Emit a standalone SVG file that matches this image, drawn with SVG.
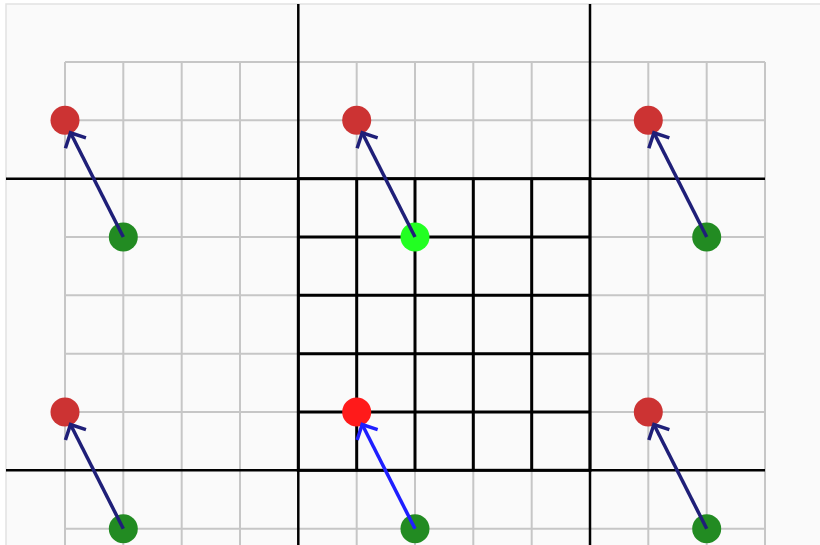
<svg xmlns="http://www.w3.org/2000/svg" width="820" height="545" viewBox="0 0 820 545">
  <defs>
    <style>
      .bg { fill: #fafafa; stroke: #e2e2e2; stroke-width: 1.5; }
      .grid { stroke: #c6c6c6; stroke-width: 2; fill: none; }
      .bound { stroke: #000; stroke-width: 2.5; fill: none; }
      .cell { stroke: #000; stroke-width: 3; fill: none; }
      .img-r { fill: #cc3333; }
      .img-g { fill: #228b22; }
      .arr { stroke: #1f1f78; stroke-width: 3.5; fill: none; marker-end: url(#head); }
      .arr-main { stroke: #1f1fff; stroke-width: 3.5; fill: none; marker-end: url(#head-main); }
    </style>
    <marker id="head" markerUnits="userSpaceOnUse" markerWidth="30" markerHeight="30" viewBox="-15 -15 30 30" refX="0" refY="0" orient="auto" overflow="visible">
      <path d="M-11.5,-11.5 L0,0 L-11.5,11.5" fill="none" stroke="#1f1f78" stroke-width="3.5"/>
    </marker>
    <marker id="head-main" markerUnits="userSpaceOnUse" markerWidth="30" markerHeight="30" viewBox="-15 -15 30 30" refX="0" refY="0" orient="auto" overflow="visible">
      <path d="M-11.5,-11.5 L0,0 L-11.5,11.5" fill="none" stroke="#1f1fff" stroke-width="3.5"/>
    </marker>
  </defs>

  <rect class="bg" x="6" y="4" width="830" height="560"/>

  <g id="grid" class="grid">
    <path d="M65,62V545 M123.3,62V545 M181.7,62V545 M240,62V545 M356.7,62V545 M415,62V545 M473.3,62V545 M531.7,62V545 M648.3,62V545 M706.7,62V545 M765,62V545"/>
    <path d="M65,62H765 M65,120.3H765 M65,237H765 M65,295.3H765 M65,353.7H765 M65,412H765 M65,528.7H765"/>
  </g>

  <g id="boundaries" class="bound">
    <path d="M6,178.7H765 M6,470.3H765 M298.3,4V545 M590,4V545"/>
  </g>

  <g id="cell" class="cell">
    <rect x="298.3" y="178.7" width="291.7" height="291.6"/>
    <path d="M356.7,178.7V470.3 M415,178.7V470.3 M473.3,178.7V470.3 M531.7,178.7V470.3"/>
    <path d="M298.3,237H590 M298.3,295.3H590 M298.3,353.7H590 M298.3,412H590"/>
  </g>

  <g id="red-tl"><circle class="img-r" cx="65" cy="120.3" r="14.5"/></g>
  <g id="red-tc"><circle class="img-r" cx="356.7" cy="120.3" r="14.5"/></g>
  <g id="red-tr"><circle class="img-r" cx="648.3" cy="120.3" r="14.5"/></g>
  <g id="red-bl"><circle class="img-r" cx="65" cy="412" r="14.5"/></g>
  <g id="red-main"><circle fill="#ff1a1a" cx="356.7" cy="412" r="14.5"/></g>
  <g id="red-br"><circle class="img-r" cx="648.3" cy="412" r="14.5"/></g>

  <g id="green-tl"><circle class="img-g" cx="123.3" cy="237" r="14.5"/></g>
  <g id="green-main"><circle fill="#22ff22" cx="415" cy="237" r="14.5"/></g>
  <g id="green-tr"><circle class="img-g" cx="706.7" cy="237" r="14.5"/></g>
  <g id="green-bl"><circle class="img-g" cx="123.3" cy="528.7" r="14.5"/></g>
  <g id="green-bc"><circle class="img-g" cx="415" cy="528.7" r="14.5"/></g>
  <g id="green-br"><circle class="img-g" cx="706.7" cy="528.7" r="14.5"/></g>

  <g id="connectors">
    <line class="arr" x1="123.3" y1="237" x2="70.5" y2="132.8"/>
    <line class="arr" x1="415" y1="237" x2="362.2" y2="132.8"/>
    <line class="arr" x1="706.7" y1="237" x2="653.9" y2="132.8"/>
    <line class="arr" x1="123.3" y1="528.7" x2="70.5" y2="424.5"/>
    <line class="arr-main" x1="415" y1="528.7" x2="362.2" y2="424.5"/>
    <line class="arr" x1="706.7" y1="528.7" x2="653.9" y2="424.5"/>
  </g>
</svg>
